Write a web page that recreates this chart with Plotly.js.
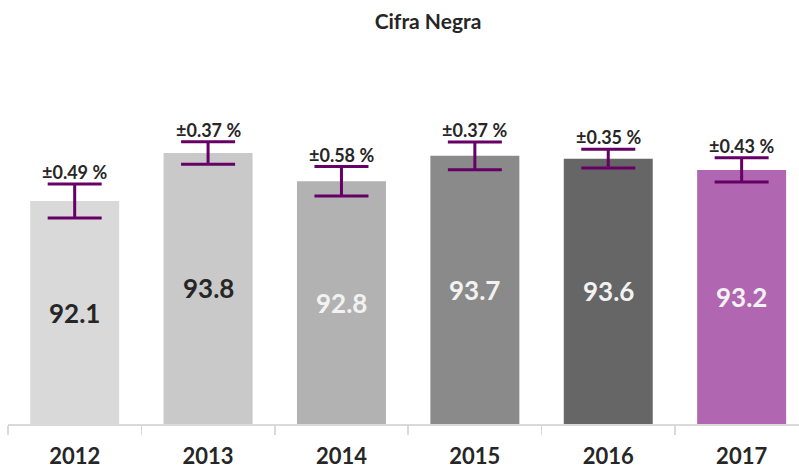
<!DOCTYPE html>
<html>
<head>
<meta charset="utf-8">
<script src="https://cdn.plot.ly/plotly-3.0.1.min.js"></script>
<style>html,body{margin:0;padding:0;background:#fff;}#chart{width:799px;height:470px;}</style>
</head>
<body>
<div id="chart"></div>
<script>
// Data
const years = ['2012', '2013', '2014', '2015', '2016', '2017'];
const values = [92.1, 93.8, 92.8, 93.7, 93.6, 93.2];
const errorLabels = ['±0.49 %', '±0.37 %', '±0.58 %', '±0.37 %', '±0.35 %', '±0.43 %'];
// half-length of the drawn error bars, in chart units, as measured on the picture
const errorHalf = [0.60, 0.40, 0.52, 0.49, 0.33, 0.43];

const barColors = ['#d9d9d9', '#c9c9c9', '#b2b2b2', '#8a8a8a', '#666666', '#b066b0'];
const labelColors = ['#262626', '#262626', '#f2f2f2', '#f2f2f2', '#f2f2f2', '#f2f2f2'];

const FONT = 'Lato, "Open Sans", "DejaVu Sans", sans-serif';
const Y_RANGE = [84.22, 97.44];

const trace = {
  type: 'bar',
  x: years,
  y: values,
  width: 0.667,
  marker: { color: barColors, line: { width: 0 } },
  textposition: 'none',
  error_y: {
    type: 'data',
    array: errorHalf,
    visible: true,
    color: '#660066',
    thickness: 3,
    width: 27
  },
  hoverinfo: 'skip'
};

// error labels above the error bars
const errAnn = years.map((yr, i) => ({
  x: i,
  y: values[i] + errorHalf[i],
  xref: 'x',
  yref: 'y',
  text: '<b>' + errorLabels[i] + '</b>',
  showarrow: false,
  yanchor: 'bottom',
  yshift: -1,
  font: { family: FONT, size: 18, color: '#262626' }
}));

// value labels centred in the visible part of each bar
const valAnn = years.map((yr, i) => ({
  x: i,
  y: (Y_RANGE[0] + values[i]) / 2,
  xref: 'x',
  yref: 'y',
  text: '<b>' + values[i].toFixed(1) + '</b>',
  showarrow: false,
  yanchor: 'middle',
  font: { family: FONT, size: 26, color: labelColors[i] }
}));

const layout = {
  width: 799,
  height: 470,
  margin: { l: 8, r: 0, t: 50, b: 46 },
  paper_bgcolor: '#ffffff',
  plot_bgcolor: '#ffffff',
  showlegend: false,
  title: {
    text: '<b>Cifra Negra</b>',
    font: { family: FONT, size: 21, color: '#262626' },
    x: 428 / 799,
    xref: 'container',
    xanchor: 'center',
    y: 1 - 22 / 470,
    yref: 'container',
    yanchor: 'middle'
  },
  xaxis: {
    type: 'category',
    range: [-0.5, 5.43],
    showline: true,
    linecolor: '#d9d9d9',
    linewidth: 1.5,
    ticks: 'outside',
    tickson: 'boundaries',
    ticklen: 9,
    tickcolor: '#d9d9d9',
    tickwidth: 1.5,
    ticklabelstandoff: 12,
    showgrid: false,
    zeroline: false,
    tickfont: { family: FONT, size: 22, color: '#262626', weight: 'bold' },
    fixedrange: true
  },
  yaxis: {
    range: Y_RANGE,
    visible: false,
    showgrid: false,
    zeroline: false,
    fixedrange: true
  },
  annotations: errAnn.concat(valAnn)
};

Plotly.newPlot('chart', [trace], layout, { displayModeBar: false, staticPlot: true });
</script>
</body>
</html>
